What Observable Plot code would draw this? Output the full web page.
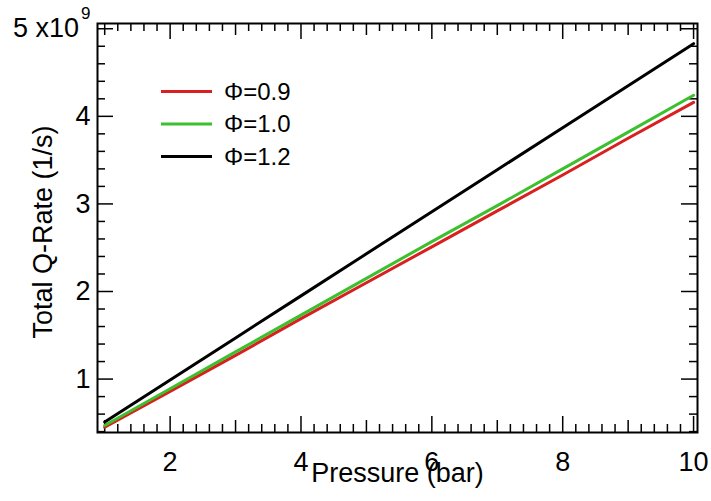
<!DOCTYPE html>
<html><head><meta charset="utf-8">
<script src="https://cdn.jsdelivr.net/npm/d3@7"></script>
<script src="https://cdn.jsdelivr.net/npm/@observablehq/plot@0.6"></script>
<style>body{margin:0;background:#fff} #chart{width:711px;height:501px}</style>
</head><body><div id="chart"></div>
<script>
// Data (Total Q-Rate in units of 1e9 1/s)
const pressure = [1, 2, 3, 4, 5, 6, 7, 8, 9, 10];
const rate09 = [0.45, 0.86, 1.27, 1.69, 2.10, 2.51, 2.92, 3.33, 3.75, 4.16];
const rate10 = [0.47, 0.89, 1.31, 1.73, 2.15, 2.57, 2.98, 3.40, 3.82, 4.24];
const rate12 = [0.51, 0.99, 1.47, 1.95, 2.43, 2.91, 3.39, 3.87, 4.35, 4.83];
const seriesNames = ["Φ=0.9", "Φ=1.0", "Φ=1.2"];
const seriesColors = ["#d91f1f", "#3cc02e", "#000000"];
const xMajorTicks = [2, 4, 6, 8, 10];
const xMediumTicks = [1, 3, 5, 7, 9];
const xMinorTicks = d3.range(5, 51).map(i => i / 5).filter(v => !Number.isInteger(v));
const yMajorTicks = [1, 2, 3, 4, 5];
const yMinorTicks = d3.range(2, 26).map(i => i / 5).filter(v => !Number.isInteger(v));
const yTickLabels = ["1", "2", "3", "4", "5 x10"];
const yExponent = "9";
const xLabel = "Pressure (bar)";
const yLabel = "Total Q-Rate (1/s)";

const seriesValues = [rate09, rate10, rate12];
const table = seriesNames.flatMap((s, k) => pressure.map((p, i) => ({series: s, p, q: seriesValues[k][i]})));

const W = 711, H = 501, mL = 97, mR = 14, mT = 23, mB = 69;
const iW = W - mL - mR, iH = H - mT - mB;
const tk = {stroke: "black", strokeWidth: 1.5};
const FONT = "'Liberation Sans', Arial, sans-serif";

const marks = [];
for (const [vals, len] of [[xMinorTicks, 8], [xMediumTicks, 12], [xMajorTicks, 16]]) {
  marks.push(Plot.tickX(vals, {x: d => d, insetTop: iH - len, ...tk}));
  marks.push(Plot.tickX(vals, {x: d => d, insetBottom: iH - len, ...tk}));
}
for (const [vals, len] of [[yMinorTicks, 8], [yMajorTicks, 16]]) {
  marks.push(Plot.tickY(vals, {y: d => d, insetRight: iW - len, ...tk}));
  marks.push(Plot.tickY(vals, {y: d => d, insetLeft: iW - len, ...tk}));
}
marks.push(Plot.line(table, {x: "p", y: "q", z: "series", stroke: "series", strokeWidth: 3}));
marks.push(Plot.frame({stroke: "black", strokeWidth: 2}));
marks.push(Plot.axisX({ticks: xMajorTicks, tickSize: 0, tickPadding: 19, fontSize: 27, label: null}));
marks.push(Plot.axisY({ticks: yMajorTicks, tickSize: 0, tickPadding: 7, fontSize: 27, label: null,
  tickFormat: d => yTickLabels[yMajorTicks.indexOf(d)]}));
marks.push(Plot.text([xLabel], {text: d => d, frameAnchor: "bottom", lineAnchor: "middle", dy: 41, fontSize: 27}));
marks.push(Plot.text([yLabel], {text: d => d, frameAnchor: "left", textAnchor: "middle", dx: -54, dy: 4, rotate: -90, fontSize: 27}));

const chart = Plot.plot({
  width: W, height: H,
  marginLeft: mL, marginRight: mR, marginTop: mT, marginBottom: mB,
  style: {fontFamily: FONT, color: "black", background: "white", overflow: "visible"},
  x: {domain: [0.89, 10.06], label: null},
  y: {domain: [0.39, 5.06], label: null},
  color: {domain: seriesNames, range: seriesColors},
  marks
});
document.getElementById("chart").appendChild(chart);

const svg = d3.select(chart);
// superscript exponent on the top tick label
svg.selectAll("text").filter(function() { return this.textContent === yTickLabels[4]; })
  .each(function() {
    const t = d3.select(this);
    t.attr("y", 8).attr("x", 0);
    t.append("tspan").attr("dy", -18).attr("dx", 2).attr("font-size", 17).text(yExponent);
  });

// legend inside the plot
const lg = svg.append("g").attr("font-family", FONT).attr("font-size", 24).attr("text-anchor", "start");
seriesNames.forEach((s, i) => {
  const y = 91.5 + i * 32.5;
  lg.append("line").attr("x1", 161).attr("x2", 212).attr("y1", y).attr("y2", y)
    .attr("stroke", seriesColors[i]).attr("stroke-width", 3);
  lg.append("text").attr("x", 224).attr("y", y).attr("dy", "0.35em").attr("fill", "black").text(s);
});
</script>
</body></html>
